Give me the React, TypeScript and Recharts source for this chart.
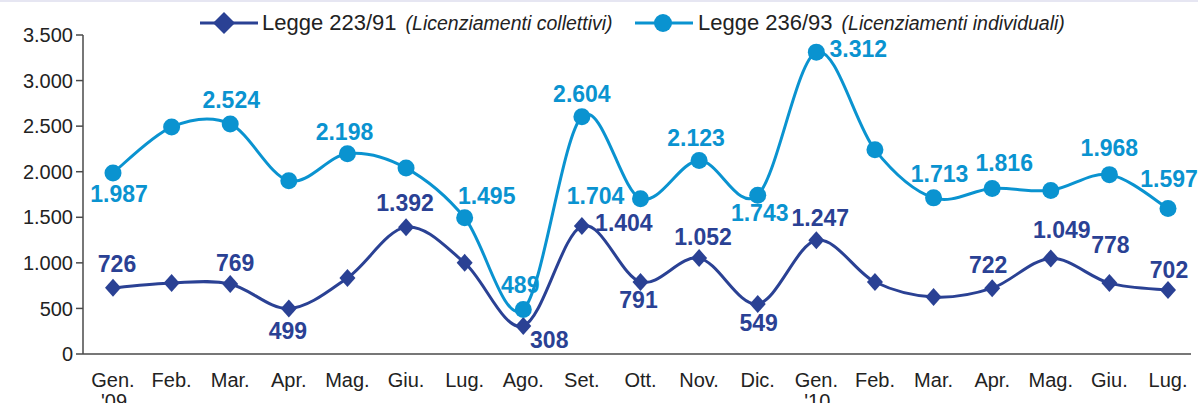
import React from "react";
import { LineChart, Line, XAxis, YAxis, LabelList } from "recharts";

const MONTHS = ["Gen.", "Feb.", "Mar.", "Apr.", "Mag.", "Giu.", "Lug.", "Ago.", "Set.", "Ott.", "Nov.", "Dic.", "Gen.", "Feb.", "Mar.", "Apr.", "Mag.", "Giu.", "Lug."];
const YEARS = ["'09", "", "", "", "", "", "", "", "", "", "", "", "'10", "", "", "", "", "", ""];

// Legge 223/91 (licenziamenti collettivi)
const COLLETTIVI = [726, 780, 769, 499, 835, 1392, 1000, 308, 1404, 791, 1052, 549, 1247, 790, 625, 722, 1049, 778, 702];
// Legge 236/93 (licenziamenti individuali)
const INDIVIDUALI = [1987, 2490, 2524, 1900, 2198, 2040, 1495, 489, 2604, 1704, 2123, 1743, 3312, 2240, 1713, 1816, 1795, 1968, 1597];

const Y_TICKS = [0, 500, 1000, 1500, 2000, 2500, 3000, 3500];

// label placement relative to the marker (null = no label shown)
const COLL_LABEL_OFFSET: ([number, number] | null)[] = [
  [4, -24], null, [5, -21], [-1, 22], null, [-1, -24], null, [26, 14], [42, -3], [-2, 18],
  [4, -21], [1, 19], [4, -22], null, null, [-4, -23], [11, -28], [1, -38], [1, -20],
];
const IND_LABEL_OFFSET: ([number, number] | null)[] = [
  [6, 21], null, [1, -24], null, [-3, -22], null, [22, -22], [-3, -24], [0, -23], [-45, -3],
  [-3, -23], [2, 18], [42, -3], null, [6, -24], [12, -25], null, [0, -27], [1, -29],
];

const DARK = "#2A4194";
const LIGHT = "#0A93D0";
const AXIS = "#4a4a4a";
const FONT = "'Liberation Sans', Arial, sans-serif";

const data = MONTHS.map((m, i) => ({
  month: m,
  year: YEARS[i],
  idx: i,
  collettivi: COLLETTIVI[i],
  individuali: INDIVIDUALI[i],
}));

const dots = (v: number) => String(v).replace(/\B(?=(\d{3})+(?!\d))/g, ".");

// Excel-like smoothed line (Catmull-Rom through every point)
function smoothCurve(context: any) {
  let pts: [number, number][] = [];
  return {
    areaStart() {},
    areaEnd() {},
    lineStart() {
      pts = [];
    },
    lineEnd() {
      if (!pts.length) return;
      context.moveTo(pts[0][0], pts[0][1]);
      for (let i = 0; i < pts.length - 1; i++) {
        const p0 = pts[i - 1] || pts[i];
        const p1 = pts[i];
        const p2 = pts[i + 1];
        const p3 = pts[i + 2] || p2;
        context.bezierCurveTo(
          p1[0] + (p2[0] - p0[0]) / 6,
          p1[1] + (p2[1] - p0[1]) / 6,
          p2[0] - (p3[0] - p1[0]) / 6,
          p2[1] - (p3[1] - p1[1]) / 6,
          p2[0],
          p2[1]
        );
      }
    },
    point(x: number, y: number) {
      pts.push([+x, +y]);
    },
  };
}

const diamondDot = (p: any) => {
  const { cx, cy, index } = p;
  return <path key={`d${index}`} d={`M${cx},${cy - 9}L${cx + 8},${cy}L${cx},${cy + 9}L${cx - 8},${cy}Z`} fill={DARK} />;
};

const circleDot = (p: any) => {
  const { cx, cy, index } = p;
  return <circle key={`c${index}`} cx={cx} cy={cy} r={8.5} fill={LIGHT} />;
};

const valueLabel = (offsets: ([number, number] | null)[], color: string) => (props: any) => {
  const { x, y, index, value } = props;
  const off = offsets[index];
  if (!off) return null;
  return (
    <text
      key={`l${index}`}
      x={x + off[0]}
      y={y + off[1]}
      textAnchor="middle"
      dominantBaseline="central"
      fill={color}
      fontSize={23}
      fontWeight="bold"
      fontFamily={FONT}
    >
      {dots(value)}
    </text>
  );
};

const MonthTick = (props: any) => {
  const { x, y, payload } = props;
  const year = YEARS[payload.index] ?? "";
  return (
    <text x={x} y={y} textAnchor="middle" fill="#222" fontSize={20} fontFamily={FONT}>
      <tspan x={x} dy={25}>{payload.value}</tspan>
      {year && <tspan x={x + 1} dy={21}>{year}</tspan>}
    </text>
  );
};

function ChartLegend() {
  return (
    <svg width={1198} height={45} style={{ position: "absolute", left: 0, top: 0 }}>
      <line x1={200} y1={23} x2={258} y2={23} stroke={DARK} strokeWidth={3} />
      <path d="M224,12L235,23L224,34L213,23Z" fill={DARK} />
      <text x={262} y={30} fontSize={22} fontFamily={FONT} fill="#222">
        Legge 223/91
        <tspan dx={9} fontSize={19.5} fontStyle="italic">(Licenziamenti collettivi)</tspan>
      </text>
      <line x1={635} y1={23} x2={693} y2={23} stroke={LIGHT} strokeWidth={3} />
      <circle cx={663} cy={23} r={9} fill={LIGHT} />
      <text x={698} y={30} fontSize={22} fontFamily={FONT} fill="#222">
        Legge 236/93
        <tspan dx={9} fontSize={19.5} fontStyle="italic">(Licenziamenti individuali)</tspan>
      </text>
    </svg>
  );
}

export default function App() {
  return (
    <div style={{ position: "absolute", left: 0, top: 0, width: 1198, height: 403, background: "#fff", fontFamily: FONT, overflow: "hidden" }}>
      <div style={{ position: "absolute", left: 0, top: 0, width: 1198, height: 2, background: "#e6e6f2" }} />
      <LineChart width={1198} height={403} data={data} margin={{ top: 35, right: 7, bottom: 0, left: 0 }}>
        <XAxis
          dataKey="month"
          height={49}
          interval={0}
          padding={{ left: 30, right: 23 }}
          tickLine={false}
          stroke={AXIS}
          strokeWidth={1.5}
          tick={<MonthTick />}
        />
        <YAxis
          width={83}
          domain={[0, 3500]}
          ticks={Y_TICKS}
          tickSize={7}
          tickMargin={3}
          stroke={AXIS}
          strokeWidth={1.5}
          tickFormatter={dots}
          tick={{ fill: "#222", fontSize: 20, fontFamily: FONT }}
        />
        <Line
          dataKey="collettivi"
          type={smoothCurve as any}
          stroke={DARK}
          strokeWidth={3}
          dot={diamondDot}
          activeDot={false}
          isAnimationActive={false}
        >
          <LabelList dataKey="collettivi" content={valueLabel(COLL_LABEL_OFFSET, DARK)} />
        </Line>
        <Line
          dataKey="individuali"
          type={smoothCurve as any}
          stroke={LIGHT}
          strokeWidth={3}
          dot={circleDot}
          activeDot={false}
          isAnimationActive={false}
        >
          <LabelList dataKey="individuali" content={valueLabel(IND_LABEL_OFFSET, LIGHT)} />
        </Line>
      </LineChart>
      <ChartLegend />
    </div>
  );
}
